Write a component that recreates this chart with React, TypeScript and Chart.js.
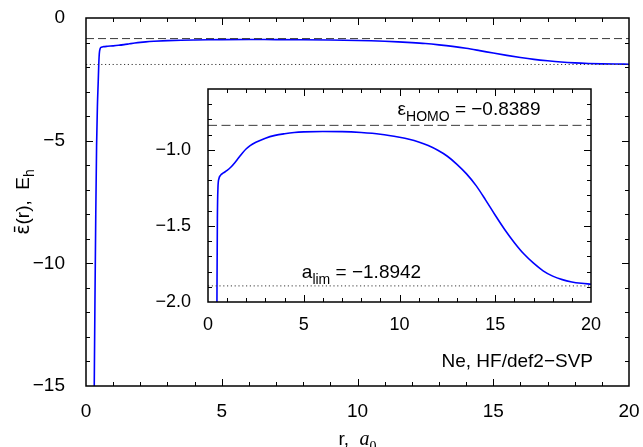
import React, { useEffect, useRef } from "react";
import { Chart, registerables } from "chart.js";

Chart.register(...registerables);

// ---------- data ----------
const rValues = [
  0.30, 0.33, 0.36, 0.39, 0.42, 0.45, 0.47, 0.49, 0.52, 0.57, 0.65, 0.80,
  1.0, 1.2, 1.4, 1.6, 1.8, 2.0, 2.2, 2.5, 3.0, 3.5, 4.0, 4.5, 5.0, 6.0, 7.0,
  8.0, 9.0, 10.0, 10.5, 11.0, 11.5, 12.0, 12.5, 13.0, 13.5, 14.0, 14.5, 15.0,
  15.5, 16.0, 16.5, 17.0, 17.5, 18.0, 18.5, 19.0, 19.5, 20.0,
];
const epsValues = [
  -15.5, -11.5, -8.0, -5.2, -3.6, -2.6, -1.9, -1.45, -1.25, -1.19, -1.168, -1.152,
  -1.135, -1.113, -1.085, -1.052, -1.02, -0.993, -0.972, -0.95, -0.923, -0.905, -0.894, -0.886, -0.882, -0.879, -0.880,
  -0.886, -0.897, -0.917, -0.930, -0.948, -0.972, -1.003, -1.042, -1.095, -1.158, -1.235, -1.33, -1.43,
  -1.525, -1.61, -1.685, -1.745, -1.795, -1.83, -1.853, -1.868, -1.877, -1.883,
];
const HOMO = -0.8389;
const A_LIM = -1.8942;

const xRange = [0, 20];
const mainYRange = [-15, 0];
const insetYRange = [-2.0, -0.6];

const mainXTicks = [0, 5, 10, 15, 20];
const mainYTicks = [-15, -10, -5, 0];
const insetXTicks = [0, 5, 10, 15, 20];
const insetYTicks = [-2.0, -1.5, -1.0];

const mainMinorX = 1;
const mainMinorY = 1;
const insetMinorX = 1;
const insetMinorY = 0.1;

const systemLabel = "Ne, HF/def2\u2212SVP";

// ---------- helpers ----------
const SANS = '"Liberation Sans", Arial, Helvetica, sans-serif';
const SERIF = '"Liberation Serif", "Times New Roman", serif';
const DEJAVU = '"DejaVu Sans", "Liberation Sans", sans-serif';

const fmt = (v: number, d: number) =>
  (v < -1e-9 ? "\u2212" : "") + Math.abs(v).toFixed(d);

const stepList = (min: number, max: number, step: number) => {
  const out: number[] = [];
  const n = Math.round((max - min) / step);
  for (let i = 0; i <= n; i++) out.push(min + i * step);
  return out;
};

type Part = { text: string; font: string; sub?: boolean };

function drawParts(
  ctx: CanvasRenderingContext2D,
  parts: Part[],
  x: number,
  y: number,
  align: "left" | "center" | "right",
  subShift: number
) {
  const widths = parts.map((p) => {
    ctx.font = p.font;
    return ctx.measureText(p.text).width;
  });
  const total = widths.reduce((a, b) => a + b, 0);
  let cx = align === "left" ? x : align === "center" ? x - total / 2 : x - total;
  ctx.textAlign = "left";
  ctx.textBaseline = "alphabetic";
  ctx.fillStyle = "#000";
  parts.forEach((p, i) => {
    ctx.font = p.font;
    ctx.fillText(p.text, cx, p.sub ? y + subShift : y);
    cx += widths[i];
  });
}

function framePlugin(cfg: {
  xMajor: number[];
  yMajor: number[];
  xMinor: number[];
  yMinor: number[];
  majorLen: number;
  minorLen: number;
}) {
  return {
    id: "frameTicks",
    afterDraw(chart: any) {
      const ctx: CanvasRenderingContext2D = chart.ctx;
      const a = chart.chartArea;
      const xs = chart.scales.x;
      const ys = chart.scales.y;
      const isMajor = (list: number[], v: number) => list.some((m) => Math.abs(m - v) < 1e-6);
      const L = Math.round(a.left);
      const R = Math.round(a.right);
      const T = Math.round(a.top);
      const B = Math.round(a.bottom);
      ctx.save();
      ctx.fillStyle = "#000";
      for (const v of cfg.xMinor) {
        const p = Math.round(xs.getPixelForValue(v));
        if (p <= L + 2 || p >= R - 2) continue;
        const len = isMajor(cfg.xMajor, v) ? cfg.majorLen : cfg.minorLen;
        ctx.fillRect(p, B - len, 1, len);
        ctx.fillRect(p, T, 1, len);
      }
      for (const v of cfg.yMinor) {
        const p = Math.round(ys.getPixelForValue(v));
        if (p <= T + 2 || p >= B - 2) continue;
        const len = isMajor(cfg.yMajor, v) ? cfg.majorLen : cfg.minorLen;
        ctx.fillRect(L, p, len, 1);
        ctx.fillRect(R - len, p, len, 1);
      }
      ctx.strokeStyle = "#000";
      ctx.lineWidth = 1.5;
      ctx.strokeRect(L, T, R - L, B - T);
      ctx.restore();
    },
  };
}

const curvePoints = () => rValues.map((r, i) => ({ x: r, y: epsValues[i] }));
const hLine = (v: number) => [
  { x: xRange[0], y: v },
  { x: xRange[1], y: v },
];

function datasets(dash: number[], dot: number[]) {
  return [
    {
      data: hLine(HOMO),
      borderColor: "#3a3a3a",
      borderWidth: 1,
      borderDash: dash,
      pointRadius: 0,
    },
    {
      data: hLine(A_LIM),
      borderColor: "#3a3a3a",
      borderWidth: 1,
      borderDash: dot,
      pointRadius: 0,
    },
    {
      data: curvePoints(),
      borderColor: "#0000ff",
      borderWidth: 1.6,
      pointRadius: 0,
      cubicInterpolationMode: "monotone" as const,
    },
  ];
}

function axis(
  min: number,
  max: number,
  tickVals: number[],
  decimals: number,
  size: number,
  padding: number,
  fit: (s: any) => void
) {
  return {
    type: "linear" as const,
    min,
    max,
    grid: { display: false },
    border: { display: false },
    afterBuildTicks: (s: any) => {
      s.ticks = tickVals.map((v) => ({ value: v }));
    },
    afterFit: (s: any) => {
      fit(s);
      s.paddingTop = 0;
      s.paddingBottom = 0;
      s.paddingLeft = 0;
      s.paddingRight = 0;
    },
    ticks: {
      font: { family: SANS, size },
      color: "#000",
      padding,
      maxRotation: 0,
      autoSkip: false,
      callback: (v: any) => fmt(Number(v), decimals),
    },
  };
}

// make the plot area land on the wanted rectangle
function pinArea(chart: any, target: { top: number; right: number; bottom: number }) {
  for (let k = 0; k < 2; k++) {
    const a = chart.chartArea;
    const pad = chart.config.options.layout.padding;
    const dTop = target.top - a.top;
    const dRight = a.right - target.right;
    const dBottom = a.bottom - target.bottom;
    if (Math.abs(dTop) < 0.2 && Math.abs(dRight) < 0.2 && Math.abs(dBottom) < 0.2) return;
    chart.config.options.layout.padding = {
      left: pad.left,
      top: pad.top + dTop,
      right: pad.right + dRight,
      bottom: pad.bottom + dBottom,
    };
    chart.update();
  }
}

function mainConfig(): any {
  const textPlugin = {
    id: "mainText",
    afterDraw(chart: any) {
      const { ctx, chartArea: a } = chart;
      ctx.save();
      // y-axis title (rotated)
      ctx.translate(29, (a.top + a.bottom) / 2);
      ctx.rotate(-Math.PI / 2);
      drawParts(
        ctx,
        [
          { text: "\u03B5\u0304", font: `19px ${DEJAVU}` },
          { text: "(r),  E", font: `19px ${SANS}` },
          { text: "h", font: `14px ${SANS}`, sub: true },
        ],
        0,
        0,
        "center",
        5
      );
      ctx.restore();
      ctx.save();
      // x-axis title
      drawParts(
        ctx,
        [
          { text: "r,  ", font: `19px ${SANS}` },
          { text: "a", font: `italic 20px ${SERIF}` },
          { text: "0", font: `14px ${SERIF}`, sub: true },
        ],
        (a.left + a.right) / 2,
        445,
        "center",
        6
      );
      // system label
      drawParts(ctx, [{ text: systemLabel, font: `19px ${SANS}` }], a.right - 36, a.bottom - 19, "right", 0);
      ctx.restore();
    },
  };
  return {
    type: "line",
    data: { datasets: datasets([8, 4], [1.2, 2.6]) },
    options: {
      responsive: false,
      devicePixelRatio: 1,
      animation: false,
      events: [],
      layout: { padding: { top: 18, right: 14, bottom: 0, left: 0 } },
      plugins: { legend: { display: false }, tooltip: { enabled: false }, title: { display: false } },
      scales: {
        x: axis(xRange[0], xRange[1], mainXTicks, 0, 19, 6, (s: any) => {
          s.height = 61;
        }),
        y: axis(mainYRange[0], mainYRange[1], mainYTicks, 0, 19, 13, (s: any) => {
          s.width = 86;
        }),
      },
    },
    plugins: [
      framePlugin({
        xMajor: mainXTicks,
        yMajor: mainYTicks,
        xMinor: stepList(xRange[0], xRange[1], mainMinorX),
        yMinor: stepList(mainYRange[0], mainYRange[1], mainMinorY),
        majorLen: 7,
        minorLen: 4,
      }),
      textPlugin,
    ],
  };
}

function insetConfig(): any {
  const textPlugin = {
    id: "insetText",
    afterDraw(chart: any) {
      const { ctx, scales } = chart;
      ctx.save();
      drawParts(
        ctx,
        [
          { text: "\u03B5", font: `19px ${SANS}` },
          { text: "HOMO", font: `14px ${SANS}`, sub: true },
          { text: " = " + fmt(HOMO, 4), font: `19px ${SANS}` },
        ],
        scales.x.getPixelForValue(9.9),
        scales.y.getPixelForValue(-0.773),
        "left",
        6
      );
      drawParts(
        ctx,
        [
          { text: "a", font: `19px ${SANS}` },
          { text: "lim", font: `14px ${SANS}`, sub: true },
          { text: " = " + fmt(A_LIM, 4), font: `19px ${SANS}` },
        ],
        scales.x.getPixelForValue(4.9),
        scales.y.getPixelForValue(-1.839),
        "left",
        6
      );
      ctx.restore();
    },
  };
  return {
    type: "line",
    data: { datasets: datasets([9, 4.5], [1.2, 2.6]) },
    options: {
      responsive: false,
      devicePixelRatio: 1,
      animation: false,
      events: [],
      layout: { padding: { top: 17, right: 19, bottom: 0, left: 0 } },
      plugins: { legend: { display: false }, tooltip: { enabled: false }, title: { display: false } },
      scales: {
        x: axis(xRange[0], xRange[1], insetXTicks, 0, 18, 4, (s: any) => {
          s.height = 40;
        }),
        y: axis(insetYRange[0], insetYRange[1], insetYTicks, 1, 18, 9, (s: any) => {
          s.width = 68;
        }),
      },
    },
    plugins: [
      framePlugin({
        xMajor: insetXTicks,
        yMajor: insetYTicks,
        xMinor: stepList(xRange[0], xRange[1], insetMinorX),
        yMinor: stepList(insetYRange[0], insetYRange[1], insetMinorY),
        majorLen: 7,
        minorLen: 4,
      }),
      textPlugin,
    ],
  };
}

export default function App() {
  const mainRef = useRef<HTMLCanvasElement>(null);
  const insetRef = useRef<HTMLCanvasElement>(null);
  useEffect(() => {
    const main = new Chart(mainRef.current as HTMLCanvasElement, mainConfig());
    pinArea(main, { top: 18, right: 629, bottom: 386 });
    const inset = new Chart(insetRef.current as HTMLCanvasElement, insetConfig());
    pinArea(inset, { top: 17, right: 451, bottom: 230 });
    return () => {
      main.destroy();
      inset.destroy();
    };
  }, []);
  return (
    <div
      style={{
        position: "absolute",
        left: 0,
        top: 0,
        width: 643,
        height: 447,
        background: "#fff",
        overflow: "hidden",
      }}
    >
      <canvas ref={mainRef} width={643} height={447} style={{ position: "absolute", left: 0, top: 0 }} />
      <canvas ref={insetRef} width={470} height={270} style={{ position: "absolute", left: 140, top: 72 }} />
    </div>
  );
}
